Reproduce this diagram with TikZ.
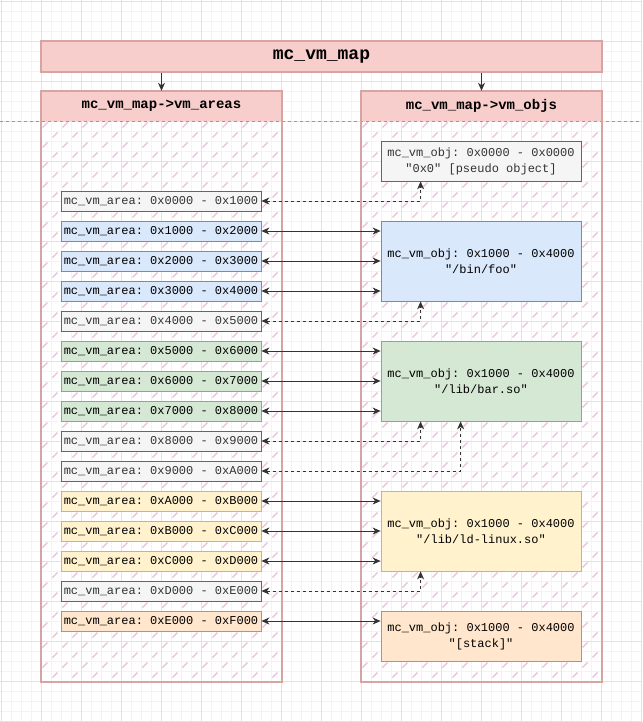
\documentclass[tikz,border=0pt]{standalone}
\usepackage{fontspec}
\setmonofont{Liberation Mono}
\usetikzlibrary{arrows.meta}
\definecolor{mapfill}{HTML}{F8CECC}
\definecolor{mapline}{RGB}{214,164,163}
\definecolor{hatchpink}{RGB}{236,190,216}
\definecolor{gridminor}{RGB}{243,243,243}
\definecolor{gridmajor}{RGB}{226,226,226}
\definecolor{greyfill}{HTML}{F5F5F5}
\definecolor{greyline}{HTML}{666666}
\definecolor{greytext}{HTML}{333333}
\definecolor{bluefill}{HTML}{DAE8FC}
\definecolor{blueline}{HTML}{6C8EBF}
\definecolor{greenfill}{HTML}{D5E8D4}
\definecolor{greenline}{HTML}{82B366}
\definecolor{yellowfill}{HTML}{FFF2CC}
\definecolor{yellowline}{HTML}{D6B656}
\definecolor{orangefill}{HTML}{FFE6CC}
\definecolor{orangeline}{HTML}{D79B00}

\tikzset{
  box/.style={draw, minimum width=200pt, minimum height=20pt, inner sep=0pt,
    line width=0.8pt, align=center, font=\ttfamily\fontsize{12}{16}\selectfont},
  greybox/.style={box, draw=greyline, fill=greyfill, text=greytext},
  bluebox/.style={box, draw=blueline, fill=bluefill},
  greenbox/.style={box, draw=greenline, fill=greenfill},
  yellowbox/.style={box, draw=yellowline, fill=yellowfill},
  orangebox/.style={box, draw=orangeline, fill=orangefill},
  lanehead/.style={fill=mapfill, minimum width=241pt, minimum height=30pt,
    inner sep=0pt, font=\ttfamily\bfseries\fontsize{14}{16}\selectfont},
  lane/.style={draw=mapline, line width=2pt, minimum width=241pt,
    minimum height=591pt, inner sep=0pt},
  tip/.tip={Stealth[length=8pt,width=7pt,inset=2.5pt]},
  link/.style={tip-tip, line width=1pt, draw=black!80},
  ref/.style={link, dash pattern=on 3pt off 3pt},
  down/.style={-tip, line width=1pt, draw=black!80},
}

\begin{document}
\begin{tikzpicture}[x=1pt,y=-1pt]
  \useasboundingbox (0,0) rectangle (642,722);
  \fill[white] (0,0) rectangle (642,722);

  % background grid
  \begin{scope}[shift={(1,1)}]
    \draw[gridminor, line width=0.8pt, step=10pt] (-1,-1) grid (641,721);
    \draw[gridmajor, line width=0.8pt, step=40pt] (-1,-1) grid (641,721);
  \end{scope}
  \draw[black!40, dashed] (0,121) -- (642,121);

  % hatching of the two lanes
  \begin{scope}
    \clip (41,121) rectangle (282,682) (361,121) rectangle (602,682);
    \foreach \r in {0,...,56}
      \foreach \c in {0,...,28}
        \draw[hatchpink, line width=1.1pt]
          ({42.5+20*\c+10*mod(\r,2)}, {127.5+10*\r}) -- ++(5,-5);
  \end{scope}

  \node[fill=mapfill, draw=mapline, line width=2pt, minimum width=561pt,
    minimum height=31pt, font=\ttfamily\bfseries\fontsize{18}{20}\selectfont]
    (map) at (321.5,56.5) {mc\_vm\_map};

  \node[lanehead] (areashead) at (161.5,106) {mc\_vm\_map->vm\_areas};
  \node[lanehead] (objshead) at (481.5,106) {mc\_vm\_map->vm\_objs};
  \node[lane] (areas) at (161.5,386.5) {};
  \node[lane] (objs) at (481.5,386.5) {};

  \draw[down] (areashead.north |- map.south) -- (areashead.north);
  \draw[down] (objshead.north |- map.south) -- (objshead.north);

  % areas
  \foreach \i/\lo/\hi/\sty in {0/0000/1000/greybox, 1/1000/2000/bluebox,
      2/2000/3000/bluebox, 3/3000/4000/bluebox, 4/4000/5000/greybox,
      5/5000/6000/greenbox, 6/6000/7000/greenbox, 7/7000/8000/greenbox,
      8/8000/9000/greybox, 9/9000/A000/greybox, 10/A000/B000/yellowbox,
      11/B000/C000/yellowbox, 12/C000/D000/yellowbox, 13/D000/E000/greybox,
      14/E000/F000/orangebox}
    \node[\sty] (a\i) at (161,201+30*\i) {mc\_vm\_area: 0x\lo{} - 0x\hi};

  % objects
  \node[greybox, minimum height=40pt] (o0) at (481,161)
    {mc\_vm\_obj: 0x0000 - 0x0000\\"0x0" [pseudo object]};
  \node[bluebox, minimum height=80pt] (o1) at (481,261)
    {mc\_vm\_obj: 0x1000 - 0x4000\\"/bin/foo"};
  \node[greenbox, minimum height=80pt] (o2) at (481,381)
    {mc\_vm\_obj: 0x1000 - 0x4000\\"/lib/bar.so"};
  \node[yellowbox, minimum height=80pt] (o3) at (481,531)
    {mc\_vm\_obj: 0x1000 - 0x4000\\"/lib/ld-linux.so"};
  \node[orangebox, minimum height=50pt] (o4) at (481,636)
    {mc\_vm\_obj: 0x1000 - 0x4000\\"[stack]"};

  % mapped areas
  \foreach \i/\o in {1/o1, 2/o1, 3/o1, 5/o2, 6/o2, 7/o2,
      10/o3, 11/o3, 12/o3, 14/o4}
    \draw[link] (a\i.east) -- (a\i.east -| \o.west);

  % unmapped areas
  \foreach \i/\o/\dx in {0/o0/40, 4/o1/40, 8/o2/40, 9/o2/80, 13/o3/40}
    \draw[ref] (a\i.east) -| ([xshift=\dx pt]\o.south west);
\end{tikzpicture}
\end{document}
